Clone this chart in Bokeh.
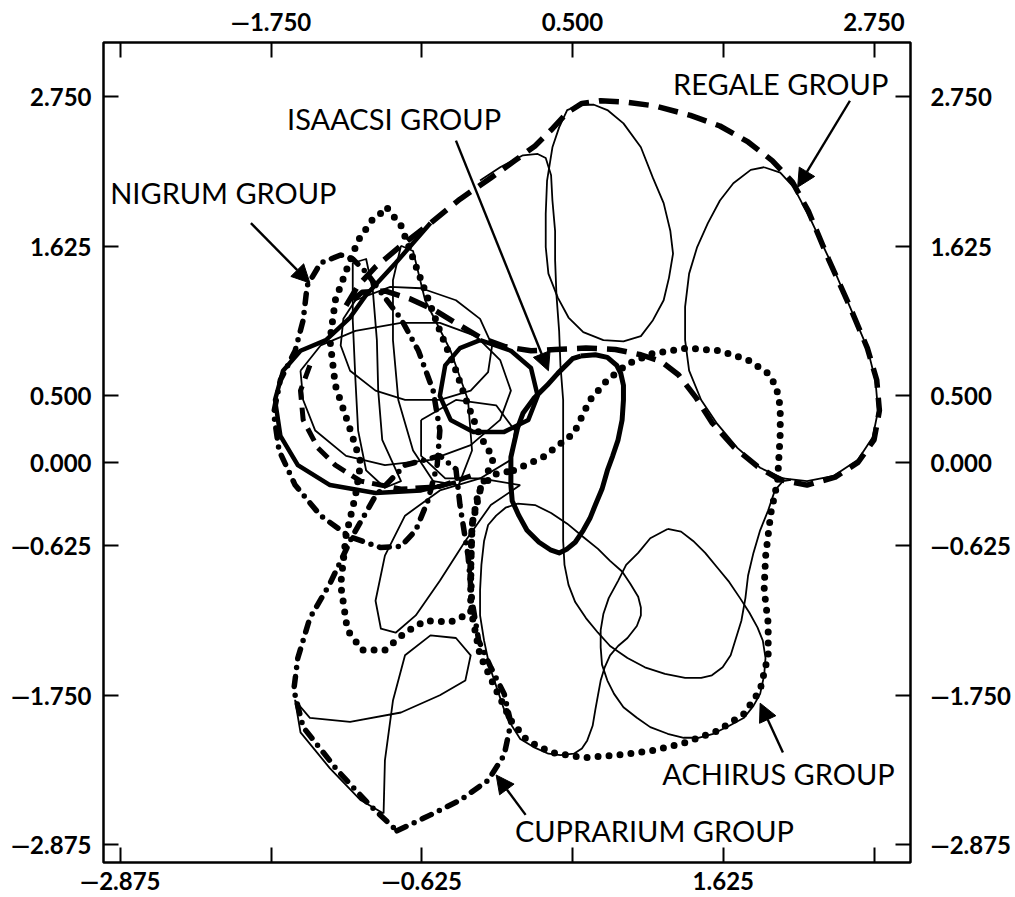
from bokeh.plotting import figure
from bokeh.models import (Range1d, LinearAxis, FixedTicker, CustomJSTickFormatter,
                          Label, Arrow, NormalHead)
from bokeh.embed import file_html
from bokeh.resources import INLINE

# ---------------- data (data units) ----------------
axis_ticks_lr = [-2.875, -1.75, -0.625, 0.0, 0.5, 1.625, 2.75]
bottom_labeled = [-2.875, -0.625, 1.625]
bottom_unlabeled = [-1.75, 0.5, 2.75]
top_labeled = [-1.75, 0.5, 2.75]
top_unlabeled = [-2.875, -0.625, 1.625]

# REGALE group (heavy dashed)
regale_x = [-1.19, -1.10, -0.97, -0.78, -0.56, -0.34, -0.11, 0.07, 0.22, 0.35, 0.46, 0.57, 0.71, 0.90,
            1.12, 1.38, 1.60, 1.81, 1.99, 2.14, 2.26, 2.41, 2.57, 2.70, 2.77, 2.79, 2.75, 2.63, 2.46,
            2.25, 2.05, 1.88, 1.70, 1.54, 1.42, 1.29, 1.16, 1.01, 0.82, 0.60, 0.37, 0.19, 0.00, -0.19,
            -0.34, -0.52, -0.71, -0.90, -1.07]
regale_y = [1.18, 1.33, 1.47, 1.63, 1.80, 1.98, 2.14, 2.27, 2.38, 2.51, 2.63, 2.70, 2.72, 2.71,
            2.68, 2.61, 2.53, 2.41, 2.27, 2.11, 1.89, 1.53, 1.17, 0.86, 0.62, 0.39, 0.17, 0.00, -0.11,
            -0.17, -0.13, -0.03, 0.12, 0.30, 0.49, 0.66, 0.76, 0.81, 0.85, 0.86, 0.85, 0.84, 0.87, 0.94,
            1.03, 1.14, 1.23, 1.29, 1.28]
regale_inner_x = [-1.46, -1.53, -1.51, -1.40, -1.27, -1.08, -0.78, -0.49, -0.26]
regale_inner_y = [0.73, 0.54, 0.32, 0.11, -0.02, -0.14, -0.20, -0.18, -0.10]

# ACHIRUS group (heavy dotted)
achirus_x = [0.06, 0.28, 0.51, 0.63, 0.76, 0.91, 1.10, 1.36, 1.60, 1.81, 1.96, 2.02, 2.05, 2.05, 2.03,
             1.98, 1.94, 1.93, 1.96, 1.96, 1.90, 1.78, 1.58, 1.33, 1.08, 0.84, 0.58, 0.34, 0.16, 0.04,
             -0.07, -0.19, -0.25, -0.26, -0.25, -0.20, -0.09]
achirus_y = [-0.06, 0.04, 0.22, 0.47, 0.62, 0.74, 0.82, 0.86, 0.84, 0.77, 0.67, 0.57, 0.42, 0.22, -0.14,
             -0.38, -0.71, -0.96, -1.21, -1.45, -1.71, -1.89, -2.02, -2.11, -2.17, -2.20, -2.22, -2.18,
             -2.09, -1.94, -1.71, -1.45, -1.15, -0.81, -0.47, -0.21, -0.09]
dotted2_x = [-0.88, -0.78, -0.71, -0.60, -0.49, -0.37, -0.28, -0.19, -0.09, -0.19, -0.25, -0.26, -0.26,
             -0.41, -0.60, -0.75, -0.90, -1.07, -1.18, -1.23, -1.19, -1.12, -1.08, -1.17, -1.27, -1.31,
             -1.27, -1.19, -1.10, -0.99]
dotted2_y = [1.91, 1.78, 1.59, 1.29, 0.99, 0.69, 0.43, 0.20, 0.03, -0.21, -0.47, -0.81, -1.13,
             -1.20, -1.19, -1.28, -1.41, -1.41, -1.26, -0.92, -0.55, -0.25, 0.00, 0.28, 0.58, 0.92,
             1.22, 1.44, 1.67, 1.83]

# CUPRARIUM group (heavy dash-dot)
cuprarium_x = [-0.81, -0.56, -0.34, -0.13, -0.01, 0.04, -0.01, -0.11, -0.20, -0.25, -0.28, -0.34, -0.37,
               -0.49, -0.75, -0.97, -1.14, -1.31, -1.46, -1.55, -1.58, -1.51, -1.25, -1.01]
cuprarium_y = [-2.77, -2.65, -2.54, -2.39, -2.20, -1.96, -1.74, -1.54, -1.34, -1.04, -0.70, -0.32, -0.05,
               0.05, -0.02, -0.25, -0.55, -0.91, -1.17, -1.47, -1.71, -1.99, -2.32, -2.58]

# NIGRUM group (heavy dash-dot)
nigrum_x = [-1.23, -1.38, -1.48, -1.51, -1.57, -1.68, -1.73, -1.69, -1.57, -1.38, -1.16, -0.93, -0.78,
            -0.67, -0.58, -0.51, -0.49, -0.54, -0.65, -0.78, -0.93, -1.04, -1.14]
nigrum_y = [1.56, 1.50, 1.33, 1.07, 0.84, 0.62, 0.37, 0.09, -0.17, -0.40, -0.56, -0.64, -0.63,
            -0.51, -0.29, -0.02, 0.24, 0.54, 0.84, 1.08, 1.28, 1.43, 1.53]

# ISAACSI group (heavy solid)
isaacsi_x = [0.56, 0.67, 0.76, 0.83, 0.86, 0.88, 0.88, 0.87, 0.84, 0.80, 0.76, 0.72, 0.67, 0.63, 0.58,
             0.52, 0.46, 0.40, 0.34, 0.25, 0.16, 0.10, 0.05, 0.04, 0.04, 0.04, 0.06, 0.09, 0.13, 0.21,
             0.31, 0.39, 0.45, 0.50]
isaacsi_y = [0.80, 0.81, 0.79, 0.73, 0.67, 0.58, 0.47, 0.32, 0.17, 0.05, -0.06, -0.20, -0.32, -0.42,
             -0.51, -0.60, -0.65, -0.68, -0.66, -0.60, -0.51, -0.40, -0.29, -0.17, -0.06, 0.04, 0.13,
             0.26, 0.37, 0.48, 0.58, 0.67, 0.73, 0.78]
heavy2_x = [-0.56, -0.82, -1.04, -1.16, -1.34, -1.53, -1.66, -1.72, -1.68, -1.55, -1.31, -0.97, -0.63, -0.37]
heavy2_y = [1.80, 1.50, 1.26, 1.09, 0.92, 0.84, 0.69, 0.47, 0.20, -0.02, -0.17, -0.23, -0.21, -0.15]
heavy3_x = [-0.19, 0.04, 0.19, 0.24, 0.17, -0.01, -0.24, -0.41, -0.49, -0.45, -0.34]
heavy3_y = [0.92, 0.84, 0.71, 0.50, 0.32, 0.23, 0.23, 0.32, 0.50, 0.73, 0.86]

# individual species (thin solid)
thin_loops = {
    "t_top": ([0.56, 0.46, 0.40, 0.35, 0.31, 0.30, 0.30, 0.32, 0.39, 0.47, 0.58, 0.73, 0.88, 1.01, 1.10,
               1.18, 1.22, 1.25, 1.23, 1.18, 1.10, 1.01, 0.88, 0.76, 0.66],
              [2.69, 2.65, 2.52, 2.37, 2.12, 1.87, 1.62, 1.42, 1.24, 1.09, 0.98, 0.92, 0.91, 0.95, 1.07,
               1.22, 1.39, 1.57, 1.74, 1.95, 2.14, 2.37, 2.55, 2.65, 2.69]),
    "t_right": ([1.93, 1.83, 1.70, 1.60, 1.51, 1.43, 1.37, 1.34, 1.34, 1.37, 1.46, 1.58, 1.73, 1.90, 2.07,
                 2.25, 2.45, 2.63, 2.74, 2.78, 2.76, 2.70, 2.57, 2.43, 2.28, 2.15, 2.05],
                [2.22, 2.20, 2.10, 1.97, 1.80, 1.62, 1.42, 1.17, 0.92, 0.69, 0.47, 0.29, 0.11, -0.04, -0.12,
                 -0.14, -0.10, 0.02, 0.19, 0.39, 0.62, 0.86, 1.17, 1.50, 1.82, 2.07, 2.18]),
    "t_l1": ([0.09, 0.22, 0.34, 0.46, 0.58, 0.69, 0.78, 0.87, 0.93, 0.99, 1.01, 1.01, 0.98, 0.91, 0.84,
              0.78, 0.74, 0.71, 0.69, 0.67, 0.65, 0.61, 0.57, 0.51, 0.41, 0.32, 0.21, 0.11, 0.01, -0.06,
              -0.12, -0.16, -0.19, -0.19, -0.18, -0.16, -0.13, -0.07, 0.00],
             [-0.31, -0.32, -0.38, -0.46, -0.56, -0.65, -0.74, -0.82, -0.91, -1.01, -1.09, -1.15, -1.23,
              -1.32, -1.38, -1.45, -1.54, -1.64, -1.75, -1.86, -1.98, -2.09, -2.15, -2.19, -2.20, -2.19,
              -2.14, -2.08, -1.92, -1.71, -1.53, -1.34, -1.15, -0.96, -0.77, -0.59, -0.47, -0.40, -0.34]),
    "t_l2": ([1.21, 1.08, 0.99, 0.90, 0.84, 0.77, 0.73, 0.71, 0.71, 0.72, 0.76, 0.81, 0.88, 0.98, 1.08,
              1.21, 1.33, 1.44, 1.55, 1.67, 1.78, 1.85, 1.90, 1.93, 1.94, 1.92, 1.88, 1.82, 1.75, 1.67,
              1.58, 1.49, 1.40, 1.31],
             [-0.50, -0.57, -0.68, -0.77, -0.89, -1.02, -1.14, -1.26, -1.39, -1.52, -1.64, -1.74, -1.84,
              -1.92, -1.99, -2.04, -2.07, -2.07, -2.04, -1.98, -1.92, -1.83, -1.74, -1.60, -1.47, -1.34,
              -1.24, -1.13, -1.02, -0.90, -0.79, -0.68, -0.59, -0.52]),
    "t_c1": ([-1.12, -0.86, -0.63, -0.37, -0.19, -0.10, -0.13, -0.26, -0.49, -0.75, -0.97, -1.16, -1.23, -1.21],
             [1.22, 1.32, 1.31, 1.22, 1.08, 0.88, 0.68, 0.54, 0.47, 0.47, 0.54, 0.69, 0.88, 1.08]),
    "t_c2": ([-1.53, -1.38, -1.12, -0.78, -0.49, -0.22, -0.04, 0.04, -0.04, -0.26, -0.56, -0.90, -1.19, -1.42, -1.51],
             [0.69, 0.88, 0.99, 1.05, 1.05, 0.95, 0.77, 0.54, 0.32, 0.13, 0.02, -0.02, 0.05, 0.24, 0.47]),
    "t_c3": ([-1.14, -1.04, -0.99, -0.96, -0.95, -0.92, -0.78, -0.90, -1.04, -1.10, -1.12, -1.14],
             [1.50, 1.53, 1.29, 0.92, 0.54, 0.17, -0.14, -0.19, -0.06, 0.24, 0.62, 1.07]),
    "t_c4": ([-0.78, -0.69, -0.60, -0.41, -0.28, -0.25, -0.35, -0.54, -0.69, -0.80, -0.84, -0.84],
             [1.63, 1.59, 1.22, 0.84, 0.47, 0.09, -0.17, -0.14, 0.09, 0.47, 0.92, 1.37]),
    "t_c5": ([-0.63, -0.37, -0.07, 0.07, 0.04, -0.19, -0.45, -0.63],
             [0.32, 0.47, 0.43, 0.24, 0.02, -0.12, -0.12, 0.05]),
    "t_low1": ([-0.91, -0.90, -0.84, -0.75, -0.56, -0.37, -0.26, -0.30, -0.49, -0.78, -1.16, -1.46, -1.57,
                -1.53, -1.31, -1.08],
               [-2.64, -2.24, -1.79, -1.45, -1.30, -1.32, -1.45, -1.64, -1.75, -1.88, -1.95, -1.92, -1.79,
                -2.03, -2.30, -2.54]),
    "t_low2": ([0.11, -0.11, -0.30, -0.49, -0.67, -0.82, -0.93, -0.97, -0.90, -0.75, -0.49, -0.19],
               [-0.17, -0.32, -0.59, -0.89, -1.15, -1.28, -1.25, -1.04, -0.70, -0.40, -0.21, -0.12]),
}
thin_open_x = [-0.19, -0.04, 0.13, 0.24, 0.30, 0.34, 0.35, 0.37, 0.37, 0.38, 0.40, 0.41, 0.43, 0.43, 0.43,
               0.43, 0.43, 0.44, 0.47, 0.52, 0.60, 0.69, 0.78, 0.91, 1.04, 1.19, 1.34, 1.46, 1.54, 1.62,
               1.68, 1.72, 1.76, 1.79, 1.81, 1.85, 1.90, 1.96, 2.01, 2.07, 2.13]
thin_open_y = [2.12, 2.22, 2.31, 2.32, 2.29, 2.16, 1.97, 1.74, 1.52, 1.26, 0.99, 0.73, 0.47, 0.20, -0.06,
               -0.32, -0.59, -0.77, -0.92, -1.05, -1.17, -1.28, -1.38, -1.47, -1.54, -1.59, -1.62, -1.62,
               -1.60, -1.54, -1.45, -1.32, -1.19, -1.02, -0.85, -0.68, -0.51, -0.36, -0.21, -0.14, -0.13]

group_names = ["REGALE GROUP", "ISAACSI GROUP", "NIGRUM GROUP", "ACHIRUS GROUP", "CUPRARIUM GROUP"]
name_x = [1.25, -1.63, -2.95, 1.17, 0.07]
name_y = [2.85, 2.59, 2.03, -2.34, -2.77]
arrow_x0 = [2.57, -0.37, -1.90, 2.07, 0.15]
arrow_y0 = [2.72, 2.42, 1.80, -2.18, -2.65]
arrow_x1 = [2.18, 0.32, -1.46, 1.90, -0.07]
arrow_y1 = [2.07, 0.69, 1.35, -1.81, -2.35]


def closed(xs, ys):
    return list(xs) + [xs[0]], list(ys) + [ys[0]]


p = figure(frame_width=807, frame_height=820,
           x_range=Range1d(-3.0, 3.022), y_range=Range1d(-3.008, 3.158),
           output_backend="svg", toolbar_location=None,
           min_border_left=103, min_border_right=98, min_border_top=42, min_border_bottom=30)
p.grid.visible = False
p.background_fill_color = "white"
p.border_fill_color = "white"
p.outline_line_color = "black"
p.outline_line_width = 2.5

fmt = CustomJSTickFormatter(code="return (tick < 0 ? '\u2014' : '') + Math.abs(tick).toFixed(3);")

left = p.yaxis[0]
left.ticker = FixedTicker(ticks=axis_ticks_lr)
right = LinearAxis(ticker=FixedTicker(ticks=axis_ticks_lr))
p.add_layout(right, "right")
bottom = p.xaxis[0]
bottom.ticker = FixedTicker(ticks=bottom_labeled, minor_ticks=bottom_unlabeled)
top = LinearAxis(ticker=FixedTicker(ticks=top_labeled, minor_ticks=top_unlabeled))
p.add_layout(top, "above")

for ax, so in ((left, 12), (right, 20), (bottom, 3), (top, 7)):
    ax.formatter = fmt
    ax.axis_line_color = None
    ax.major_tick_in = 15
    ax.major_tick_out = 0
    ax.minor_tick_in = 15
    ax.minor_tick_out = 0
    ax.major_tick_line_width = 2
    ax.minor_tick_line_width = 2
    ax.major_tick_line_color = "black"
    ax.minor_tick_line_color = "black"
    ax.major_label_standoff = so
    ax.major_label_text_font = "Lato"
    ax.major_label_text_font_size = "24px"
    ax.major_label_text_font_style = "bold"
    ax.major_label_text_color = "black"

# thin curves
for name, (xs, ys) in thin_loops.items():
    cx, cy = closed(xs, ys)
    p.line(cx, cy, line_color="black", line_width=1.8, line_join="round")
p.line(thin_open_x, thin_open_y, line_color="black", line_width=1.8, line_join="round")

# heavy solid
cx, cy = closed(isaacsi_x, isaacsi_y)
p.line(cx, cy, line_color="black", line_width=5, line_join="round")
p.line(heavy2_x, heavy2_y, line_color="black", line_width=4.5, line_join="round")
cx, cy = closed(heavy3_x, heavy3_y)
p.line(cx, cy, line_color="black", line_width=4.5, line_join="round")

# dashed
cx, cy = closed(regale_x, regale_y)
p.line(cx, cy, line_color="black", line_width=5.5, line_dash="20 10", line_join="round")
p.line(regale_inner_x, regale_inner_y, line_color="black", line_width=5, line_dash="14 8", line_join="round")

# dotted
for xs, ys in ((achirus_x, achirus_y), (dotted2_x, dotted2_y)):
    cx, cy = closed(xs, ys)
    p.line(cx, cy, line_color="black", line_width=7, line_dash="0 11", line_cap="round", line_join="round")

# dash-dot
for xs, ys in ((cuprarium_x, cuprarium_y), (nigrum_x, nigrum_y)):
    cx, cy = closed(xs, ys)
    p.line(cx, cy, line_color="black", line_width=5.5, line_dash="10 9 0 9", line_cap="round", line_join="round")

# group labels and arrows
for t, x, y in zip(group_names, name_x, name_y):
    p.add_layout(Label(x=x, y=y, text=t, text_font="Lato", text_font_size="29px",
                       text_baseline="middle", text_align="left", text_color="black"))
for x0, y0, x1, y1 in zip(arrow_x0, arrow_y0, arrow_x1, arrow_y1):
    p.add_layout(Arrow(x_start=x0, y_start=y0, x_end=x1, y_end=y1, line_width=2.4, line_color="black",
                       end=NormalHead(size=18, fill_color="black", line_color="black", line_width=1)))

open("out.html", "w").write(file_html(p, INLINE))
